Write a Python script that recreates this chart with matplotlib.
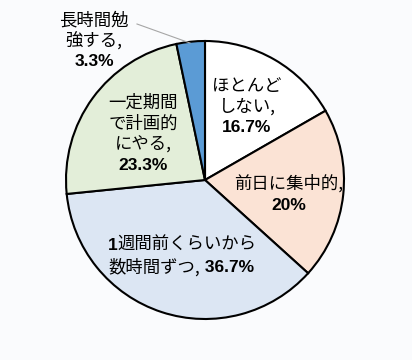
import matplotlib
matplotlib.use('Agg')
import matplotlib.pyplot as plt

# data
categories = ['ほとんどしない', '前日に集中的', '1週間前くらいから数時間ずつ',
              '一定期間で計画的にやる', '長時間勉強する']
values = [16.7, 20, 36.7, 23.3, 3.3]
colors = ['#ffffff', '#fbe3d5', '#dce6f3', '#e3eed9', '#5b9bd5']

# label text: japanese lines + percent line
label_lines = [
    ['ほとんど', 'しない,'],
    ['前日に集中的,'],
    [],
    ['一定期間', 'で計画的', 'にやる,'],
    ['長時間勉', '強する,'],
]
pct_labels = ['16.7%', '20%', '36.7%', '23.3%', '3.3%']

W, H = 412, 360
fig = plt.figure(figsize=(W / 100, H / 100), dpi=100)
fig.patch.set_facecolor('#fafbfd')
ax = fig.add_axes([0, 0, 1, 1])

cx, cy, r = 205, H - 180, 139
ax.pie(values, colors=colors, startangle=90, counterclock=False,
       center=(cx, cy), radius=r,
       wedgeprops=dict(edgecolor='black', linewidth=1.5))
ax.set_xlim(0, W)
ax.set_ylim(0, H)
ax.set_aspect('equal')
ax.axis('off')

jp = dict(family=['Noto Sans CJK JP', 'DejaVu Sans'], fontsize=12.5,
          ha='center', va='center', color='black')
num = dict(family=['Liberation Sans', 'DejaVu Sans'], fontsize=12.5,
           fontweight='bold', ha='center', va='center', color='black')

# label layout (pixel coords from top): x, first line y, line step
layout = [(247, 86, 21), (289, 183, 22), (182, 245, 22), (143, 103, 21), (94, 20, 21)]

for i, (x, y0, dy) in enumerate(layout):
    lines = label_lines[i]
    if i == 2:
        # mixed lines: bold numbers inside japanese text
        t1 = ax.text(108, H - y0, '1', **{**num, 'ha': 'left'})
        ax.annotate('週間前くらいから', xy=(1, 0.5), xycoords=t1,
                    **{**jp, 'ha': 'left'})
        t2 = ax.text(108, H - (y0 + dy), '数時間ずつ,', **{**jp, 'ha': 'left'})
        ax.annotate(' ' + pct_labels[i], xy=(1, 0.5), xycoords=t2,
                    **{**num, 'ha': 'left'})
        continue
    for k, s in enumerate(lines):
        ax.text(x, H - (y0 + k * dy), s, **jp)
    ax.text(x, H - (y0 + len(lines) * dy), pct_labels[i], **num)

# leader line for the small slice
ax.plot([137, 190], [H - 24, H - 43], color='#a6a6a6', linewidth=0.8)

fig.savefig('out.png', dpi=100, facecolor=fig.get_facecolor())
